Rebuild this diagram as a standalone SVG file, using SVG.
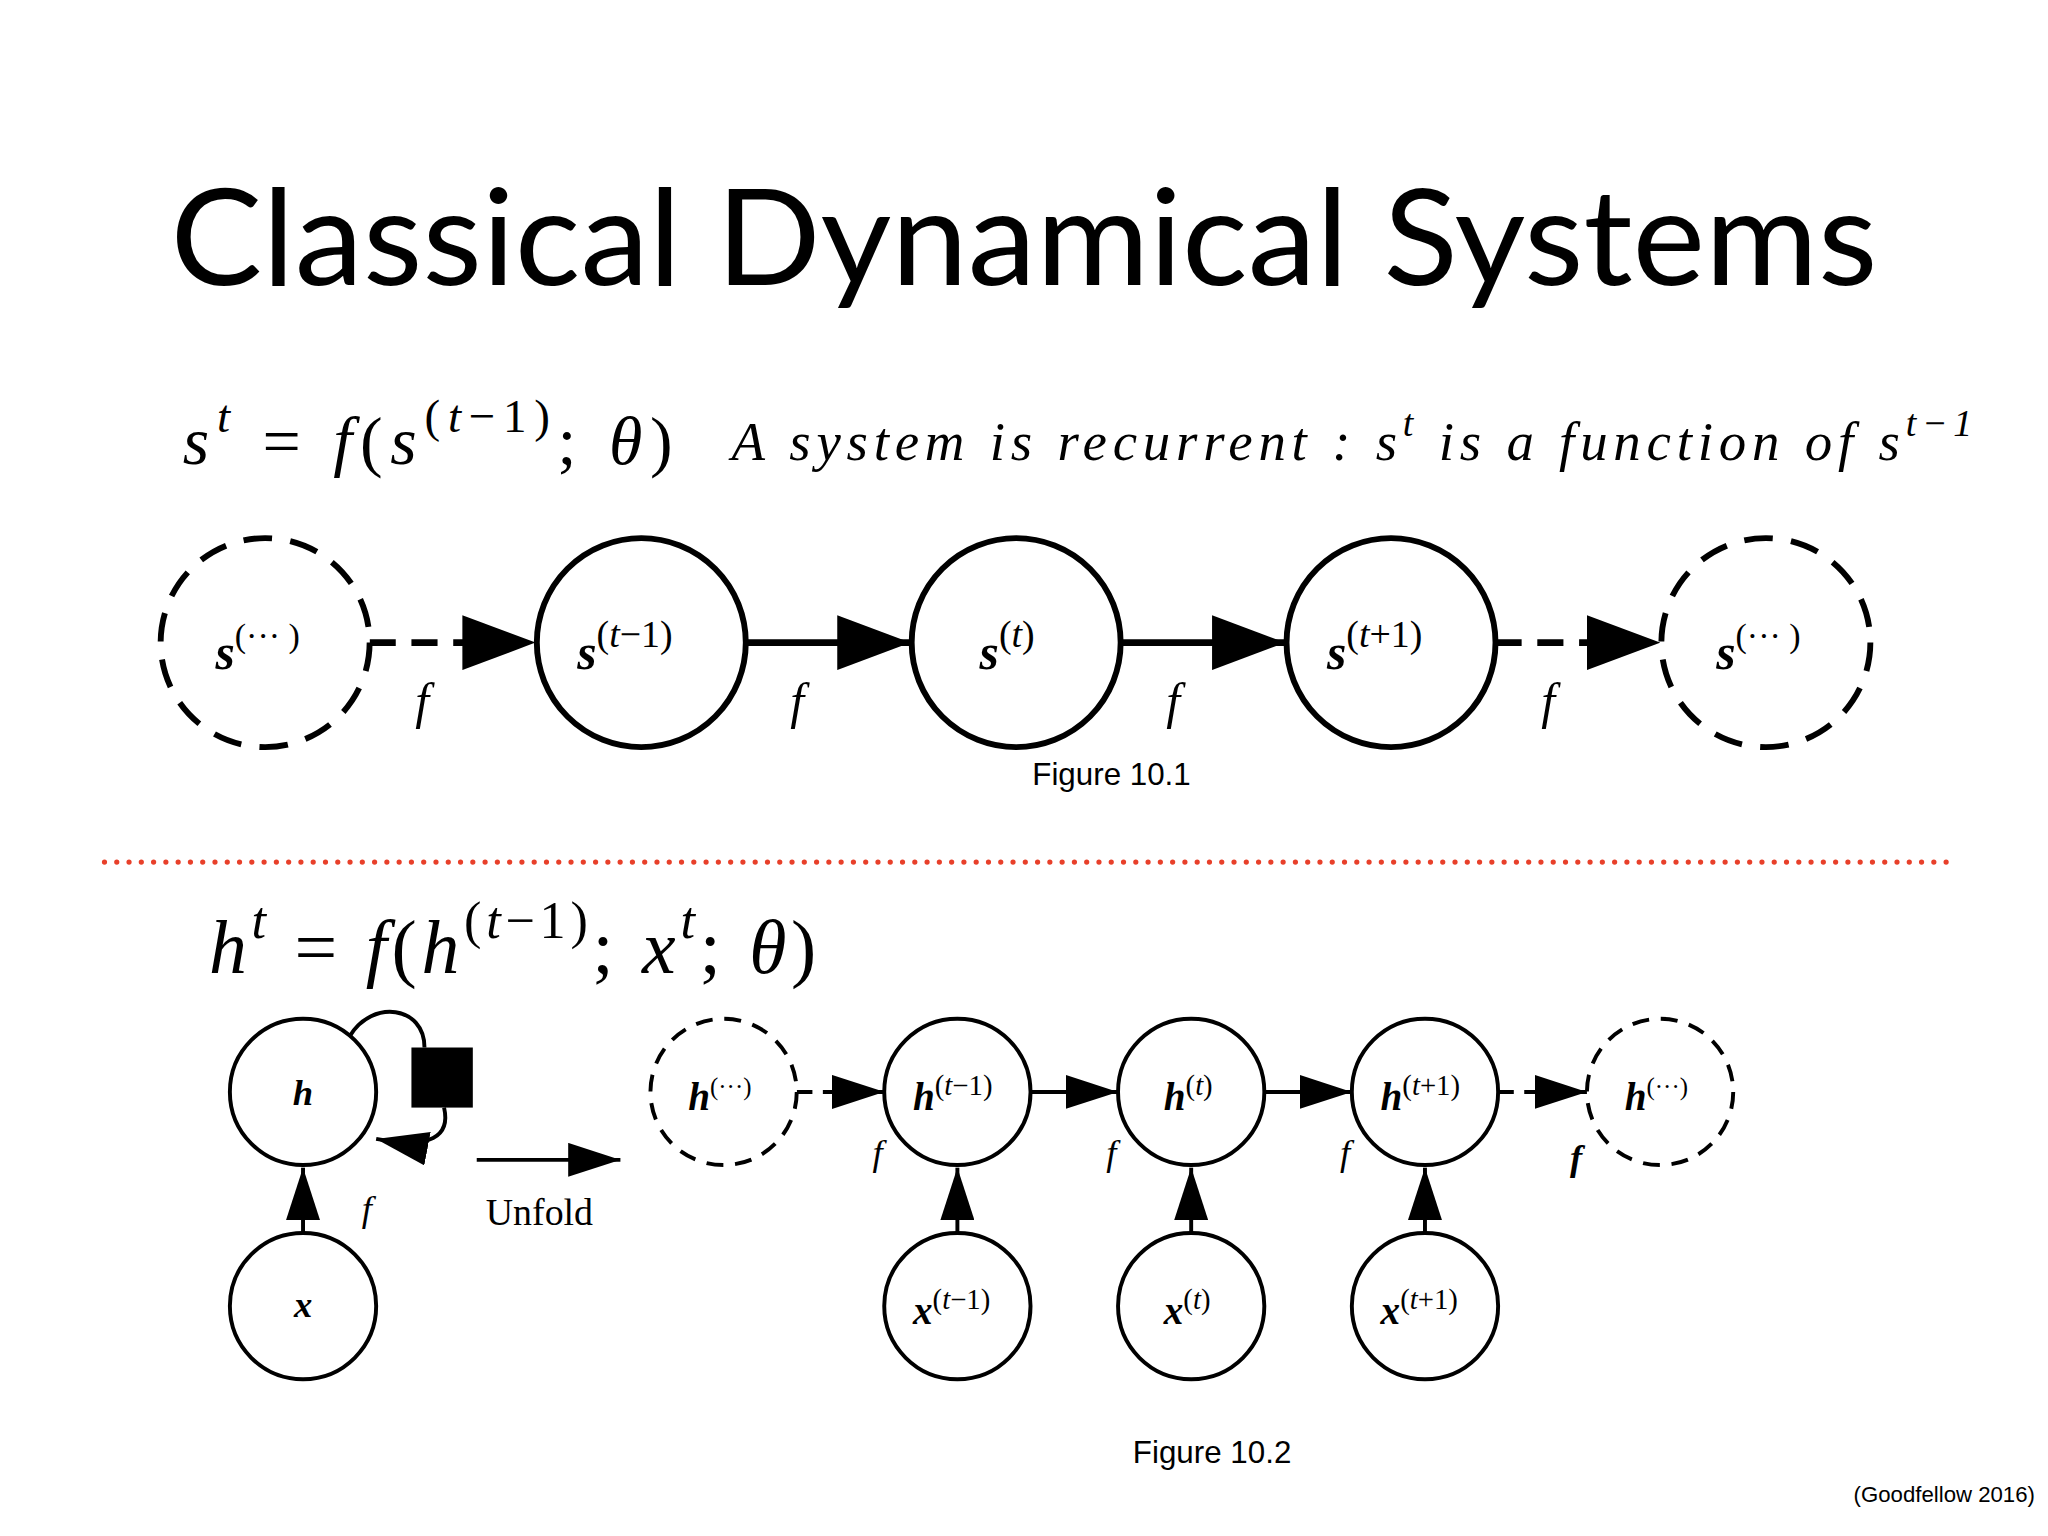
<svg xmlns="http://www.w3.org/2000/svg" width="2048" height="1536" viewBox="0 0 2048 1536">
<style>
.n{fill:#fff;stroke:#000;stroke-width:4.5}
.d{stroke-dasharray:22 14}
.sm .n{stroke-width:3}
.sm .d{stroke-dasharray:13 9}
.m{font-family:"Liberation Serif","DejaVu Serif",serif;font-style:italic}
.b{font-weight:bold}
.c{stroke:#000;fill:none}
.sans{font-family:"Liberation Sans",Arial,sans-serif}
</style>
<defs>
<marker id="as" markerWidth="40" markerHeight="26" refX="40" refY="13" orient="auto" markerUnits="userSpaceOnUse" viewBox="0 0 40 26"><path d="M0,0 L40,13 L0,26 z"/></marker>
<marker id="aL" markerWidth="56" markerHeight="42" refX="56" refY="21" orient="auto" markerUnits="userSpaceOnUse" viewBox="0 0 56 42"><path d="M0,0 L56,21 L0,42 z"/></marker>
</defs>
<rect width="2048" height="1536" fill="#fff"/>
<g transform="scale(1.30612)">
<text x="784" y="218" text-anchor="middle" font-family="Lato,'Open Sans',sans-serif" font-size="102" textLength="1307" lengthAdjust="spacingAndGlyphs">Classical Dynamical Systems</text>
<text class="m" x="140" y="355" font-size="52" textLength="375">s<tspan dy="-24" font-size="36">t</tspan><tspan dy="24" font-style="normal"> = </tspan>f<tspan font-style="normal">(</tspan>s<tspan dy="-24" font-size="36" font-style="normal">(</tspan><tspan font-size="36">t</tspan><tspan font-size="36" font-style="normal">−1)</tspan><tspan dy="24" font-style="normal">;</tspan> θ<tspan font-style="normal">)</tspan></text>
<text class="m" x="560" y="352" font-size="42" textLength="950">A system is recurrent :  s<tspan dy="-18" font-size="29">t</tspan><tspan dy="18"> is a function of s</tspan><tspan dy="-18" font-size="29">t−1</tspan></text>

<g id="connectors1">
<path class="c" d="M283,492 H410" stroke-width="5" stroke-dasharray="20 12" marker-end="url(#aL)"/>
<path class="c" d="M571,492 H697" stroke-width="5" marker-end="url(#aL)"/>
<path class="c" d="M858,492 H984" stroke-width="5" marker-end="url(#aL)"/>
<path class="c" d="M1145,492 H1271" stroke-width="5" stroke-dasharray="20 12" marker-end="url(#aL)"/>
<text class="m" font-size="38" x="318" y="550">f</text>
<text class="m" font-size="38" x="605" y="550">f</text>
<text class="m" font-size="38" x="893" y="550">f</text>
<text class="m" font-size="38" x="1180" y="550">f</text>
</g>
<g id="s_dots_l"><circle class="n d" cx="203" cy="492" r="80"/><text class="m" x="165" y="512" font-size="38"><tspan class="b">s</tspan><tspan dy="-17" font-size="26" font-style="normal">(··· )</tspan></text></g>
<g id="s_tm1"><circle class="n" cx="491" cy="492" r="80"/><text class="m" x="442" y="512" font-size="38"><tspan class="b">s</tspan><tspan dy="-17" font-size="29" font-style="normal">(</tspan><tspan font-size="29">t</tspan><tspan font-size="29" font-style="normal">−1)</tspan></text></g>
<g id="s_t"><circle class="n" cx="778" cy="492" r="80"/><text class="m" x="750" y="512" font-size="38"><tspan class="b">s</tspan><tspan dy="-17" font-size="29" font-style="normal">(</tspan><tspan font-size="29">t</tspan><tspan font-size="29" font-style="normal">)</tspan></text></g>
<g id="s_tp1"><circle class="n" cx="1065" cy="492" r="80"/><text class="m" x="1016" y="512" font-size="38"><tspan class="b">s</tspan><tspan dy="-17" font-size="29" font-style="normal">(</tspan><tspan font-size="29">t</tspan><tspan font-size="29" font-style="normal">+1)</tspan></text></g>
<g id="s_dots_r"><circle class="n d" cx="1352" cy="492" r="80"/><text class="m" x="1314" y="512" font-size="38"><tspan class="b">s</tspan><tspan dy="-17" font-size="26" font-style="normal">(··· )</tspan></text></g>
<text class="sans" x="851" y="601" text-anchor="middle" font-size="24">Figure 10.1</text>

<line x1="80" y1="660" x2="1492" y2="660" stroke="#e8402a" stroke-width="4" stroke-linecap="round" stroke-dasharray="0 9.4"/>

<text class="m" x="160" y="745" font-size="58" textLength="465">h<tspan dy="-27" font-size="40">t</tspan><tspan dy="27" font-style="normal"> = </tspan>f<tspan font-style="normal">(</tspan>h<tspan dy="-27" font-size="40" font-style="normal">(</tspan><tspan font-size="40">t</tspan><tspan font-size="40" font-style="normal">−1)</tspan><tspan dy="27" font-style="normal">;</tspan> x<tspan dy="-27" font-size="40">t</tspan><tspan dy="27" font-style="normal">;</tspan> θ<tspan font-style="normal">)</tspan></text>

<g class="sm">
<g id="connectors2">
<path class="c" d="M232,944 V894" stroke-width="3" marker-end="url(#as)"/>
<path class="c" d="M268,793 C285,765 325,770 325,802" stroke-width="3"/>
<path class="c" d="M340,848 C345,870 330,880 288,872" stroke-width="3" marker-end="url(#as)"/>
<rect x="315" y="802" width="47" height="46"/>
<path class="c" d="M365,888 H475" stroke-width="3" marker-end="url(#as)"/>
<path class="c" d="M610,836 H677" stroke-width="3" stroke-dasharray="12 8" marker-end="url(#as)"/>
<path class="c" d="M789,836 H856" stroke-width="3" marker-end="url(#as)"/>
<path class="c" d="M968,836 H1035" stroke-width="3" marker-end="url(#as)"/>
<path class="c" d="M1147,836 H1215" stroke-width="3" stroke-dasharray="12 8" marker-end="url(#as)"/>
<path class="c" d="M733,944 V894" stroke-width="3" marker-end="url(#as)"/>
<path class="c" d="M912,944 V894" stroke-width="3" marker-end="url(#as)"/>
<path class="c" d="M1091,944 V894" stroke-width="3" marker-end="url(#as)"/>
<text class="m" font-size="28" x="277" y="935">f</text>
<text class="m" font-size="28" x="668" y="892">f</text>
<text class="m" font-size="28" x="847" y="892">f</text>
<text class="m" font-size="28" x="1026" y="892">f</text>
<text class="m b" font-size="28" x="1202" y="896">f</text>
<text x="413" y="938" text-anchor="middle" font-family="'Liberation Serif',serif" font-size="29">Unfold</text>
</g>
<g id="h"><circle class="n" cx="232" cy="836" r="56"/><text class="m b" x="232" y="846" text-anchor="middle" font-size="28">h</text></g>
<g id="x"><circle class="n" cx="232" cy="1000" r="56"/><text class="m b" x="232" y="1008" text-anchor="middle" font-size="28">x</text></g>
<g id="h_dots_l"><circle class="n d" cx="554" cy="836" r="56"/><text class="m" x="527" y="850" font-size="30"><tspan class="b">h</tspan><tspan dy="-12" font-size="19" font-style="normal">(···)</tspan></text></g>
<g id="h_tm1"><circle class="n" cx="733" cy="836" r="56"/><text class="m" x="699" y="850" font-size="30"><tspan class="b">h</tspan><tspan dy="-12" font-size="22" font-style="normal">(</tspan><tspan font-size="22">t</tspan><tspan font-size="22" font-style="normal">−1)</tspan></text></g>
<g id="h_t"><circle class="n" cx="912" cy="836" r="56"/><text class="m" x="891" y="850" font-size="30"><tspan class="b">h</tspan><tspan dy="-12" font-size="22" font-style="normal">(</tspan><tspan font-size="22">t</tspan><tspan font-size="22" font-style="normal">)</tspan></text></g>
<g id="h_tp1"><circle class="n" cx="1091" cy="836" r="56"/><text class="m" x="1057" y="850" font-size="30"><tspan class="b">h</tspan><tspan dy="-12" font-size="22" font-style="normal">(</tspan><tspan font-size="22">t</tspan><tspan font-size="22" font-style="normal">+1)</tspan></text></g>
<g id="h_dots_r"><circle class="n d" cx="1271" cy="836" r="56"/><text class="m" x="1244" y="850" font-size="30"><tspan class="b">h</tspan><tspan dy="-12" font-size="19" font-style="normal">(···)</tspan></text></g>
<g id="x_tm1"><circle class="n" cx="733" cy="1000" r="56"/><text class="m" x="699" y="1014" font-size="30"><tspan class="b">x</tspan><tspan dy="-12" font-size="22" font-style="normal">(</tspan><tspan font-size="22">t</tspan><tspan font-size="22" font-style="normal">−1)</tspan></text></g>
<g id="x_t"><circle class="n" cx="912" cy="1000" r="56"/><text class="m" x="891" y="1014" font-size="30"><tspan class="b">x</tspan><tspan dy="-12" font-size="22" font-style="normal">(</tspan><tspan font-size="22">t</tspan><tspan font-size="22" font-style="normal">)</tspan></text></g>
<g id="x_tp1"><circle class="n" cx="1091" cy="1000" r="56"/><text class="m" x="1057" y="1014" font-size="30"><tspan class="b">x</tspan><tspan dy="-12" font-size="22" font-style="normal">(</tspan><tspan font-size="22">t</tspan><tspan font-size="22" font-style="normal">+1)</tspan></text></g>
</g>
<text class="sans" x="928" y="1120" text-anchor="middle" font-size="24">Figure 10.2</text>
<text class="sans" x="1558" y="1150" text-anchor="end" font-size="17">(Goodfellow 2016)</text>
</g>
</svg>
